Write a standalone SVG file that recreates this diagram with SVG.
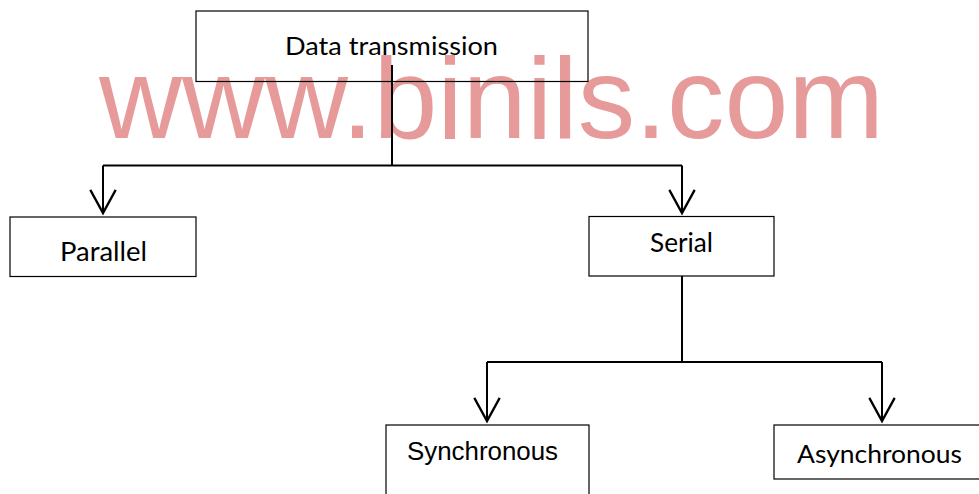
<svg xmlns="http://www.w3.org/2000/svg" width="979" height="494" viewBox="0 0 979 494">
  <style>
    .box { fill: none; stroke: #000; stroke-width: 1.2; }
    .conn { fill: none; stroke: #000; stroke-width: 2; }
    .lbl { font-family: Lato, "Open Sans", sans-serif; fill: #000; }
    .lbl2 { font-family: "Liberation Sans", Arial, sans-serif; fill: #000; }
    .wm { font-family: "Liberation Sans", Arial, sans-serif; fill: #e69a9a; }
  </style>
  <defs>
    <marker id="arrow" markerUnits="userSpaceOnUse" markerWidth="30" markerHeight="30" viewBox="-22 -13 26 26" refX="0" refY="0" orient="auto">
      <path d="M -20,-11 L 0,0 L -20,11" fill="none" stroke="#000" stroke-width="2"/>
    </marker>
  </defs>
  <rect width="979" height="494" fill="#fff"/>
  <text class="wm" x="99" y="138" font-size="115" textLength="785" lengthAdjust="spacingAndGlyphs">www.binils.com</text>

  <g id="connectors">
    <path class="conn" d="M 392,65 L 392,165.5"/>
    <path class="conn" d="M 103,165.5 L 682,165.5"/>
    <path class="conn" d="M 103,165.5 L 103,213" marker-end="url(#arrow)"/>
    <path class="conn" d="M 682,165.5 L 682,213" marker-end="url(#arrow)"/>
    <path class="conn" d="M 682,276 L 682,362"/>
    <path class="conn" d="M 487,362 L 882,362"/>
    <path class="conn" d="M 487,362 L 487,421" marker-end="url(#arrow)"/>
    <path class="conn" d="M 882,362 L 882,421" marker-end="url(#arrow)"/>
  </g>

  <g id="data-transmission">
    <rect class="box" x="196" y="11" width="392" height="70.5" stroke="#333"/>
    <text class="lbl" x="285" y="55" font-size="24.5" textLength="213" lengthAdjust="spacingAndGlyphs">Data transmission</text>
  </g>
  <g id="parallel">
    <rect class="box" x="10" y="217" width="186" height="59.5"/>
    <text class="lbl" x="60" y="261" font-size="26.5" textLength="87" lengthAdjust="spacingAndGlyphs">Parallel</text>
  </g>
  <g id="serial">
    <rect class="box" x="589" y="216.5" width="185" height="59.5"/>
    <text class="lbl" x="650" y="252" font-size="26.5" textLength="63" lengthAdjust="spacingAndGlyphs">Serial</text>
  </g>
  <g id="synchronous">
    <rect class="box" x="386" y="425" width="203" height="90"/>
    <text class="lbl2" x="407" y="460" font-size="26" textLength="151" lengthAdjust="spacingAndGlyphs">Synchronous</text>
  </g>
  <g id="asynchronous">
    <rect class="box" x="774" y="425" width="220" height="54"/>
    <text class="lbl" x="797" y="463" font-size="25.5" textLength="165" lengthAdjust="spacingAndGlyphs">Asynchronous</text>
  </g>
</svg>
